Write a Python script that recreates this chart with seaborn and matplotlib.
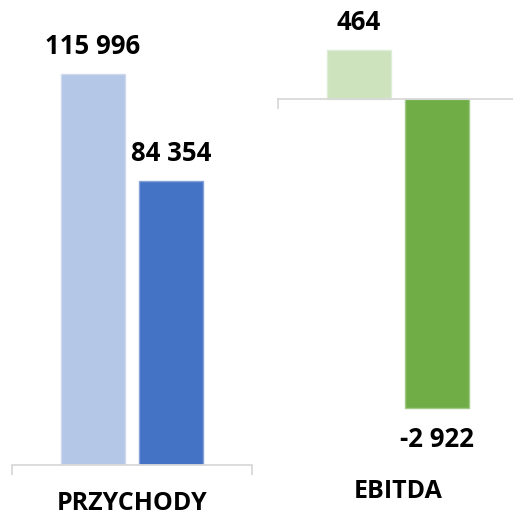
import matplotlib
matplotlib.use("Agg")
import matplotlib.pyplot as plt
import matplotlib.transforms as mtransforms
from matplotlib.colors import to_rgb
import seaborn as sns
import pandas as pd

# data
periods = ["poprzedni", "bieżący"]
przychody = [115996, 84354]
ebitda = [464, -2922]
panel_names = ["PRZYCHODY", "EBITDA"]
blues = ["#B4C7E7", "#4472C4"]
greens = ["#CCE3BE", "#70AD47"]

sns.set_style("white")
plt.rcParams["font.family"] = ["Open Sans", "DejaVu Sans"]

GRID = "#D9D9D9"


def fmt(v):
    # Polish style thousands separator
    return f"{v:,.0f}".replace(",", " ")


def lighten(c, f=0.35):
    r, g, b = to_rgb(c)
    return (r + (1 - r) * f, g + (1 - g) * f, b + (1 - b) * f)


def draw_panel(ax, values, palette, name, ylim, name_y):
    df = pd.DataFrame({"kat": [name] * len(values), "okres": periods, "wartosc": values})
    sns.barplot(data=df, x="kat", y="wartosc", hue="okres", palette=palette,
                width=0.65, gap=0.18, saturation=1, legend=False, ax=ax, linewidth=1)
    for p in ax.patches:
        p.set_edgecolor(lighten(p.get_facecolor()))

    ax.set_xlim(-0.5, 0.5)
    ax.set_ylim(*ylim)
    for s in ["top", "right", "left"]:
        ax.spines[s].set_visible(False)
    ax.spines["bottom"].set_position(("data", 0))
    ax.spines["bottom"].set_color(GRID)
    ax.spines["bottom"].set_linewidth(1.3)
    ax.set_yticks([])
    ax.set_xticks([-0.5, 0.5])
    ax.set_xticklabels([])
    ax.tick_params(axis="x", direction="out", length=7, width=1.3, color=GRID, bottom=True)
    ax.set_xlabel("")
    ax.set_ylabel("")

    # value labels at the end of each bar
    for p, v in zip(ax.patches, values):
        xc = p.get_x() + p.get_width() / 2
        off = 20 if v >= 0 else -23
        ax.annotate(fmt(v), xy=(xc, v), xytext=(0, off), textcoords="offset points",
                    ha="center", va="center", fontsize=18.5, fontweight="bold",
                    color="black", annotation_clip=False)

    tr = mtransforms.blended_transform_factory(ax.transData, ax.figure.transFigure)
    ax.text(0.0, name_y, name, transform=tr, ha="center", va="center",
            fontsize=18, fontweight="bold", color="black")


fig = plt.figure(figsize=(5.13, 5.15), dpi=100)
W, H = 513, 515

# left panel: baseline at y=465 px from top, 391 px for 115 996
ax1 = fig.add_axes([12 / W, 50 / H, 240 / W, 438 / H])
draw_panel(ax1, przychody, blues, panel_names[0], (0, 130000), 11 / H)

# right panel: baseline at y=99 px from top
ax2 = fig.add_axes([278 / W, 46 / H, 240 / W, 444 / H])
draw_panel(ax2, ebitda, greens, panel_names[1], (-3500, 700), 23 / H)

fig.savefig("out.png", dpi=100)
